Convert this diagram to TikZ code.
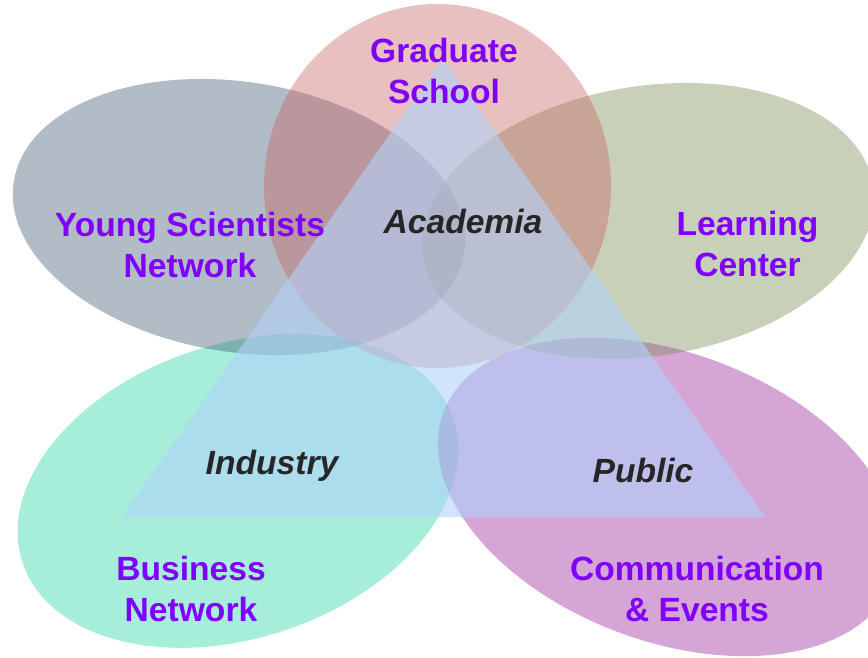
\documentclass[tikz,border=0pt]{standalone}
\usepackage{fontspec}
\setmainfont{Liberation Sans}
\usetikzlibrary{calc}

\definecolor{gsred}{RGB}{198,97,97}
\definecolor{ysgray}{RGB}{62,88,112}
\definecolor{lcolive}{RGB}{118,138,82}
\definecolor{bnteal}{RGB}{32,210,163}
\definecolor{cepurple}{RGB}{150,30,151}
\definecolor{triblue}{RGB}{177,210,250}
\definecolor{labelviolet}{RGB}{128,0,255}
\definecolor{innergray}{RGB}{38,38,38}

\tikzset{
    outer/.style={labelviolet, font=\fontsize{33.6}{41}\selectfont\bfseries, align=center},
    inner/.style={innergray, font=\fontsize{33.6}{41}\selectfont\bfseries\itshape, anchor=base}
}

\begin{document}
\begin{tikzpicture}[x=1pt, y=-1pt]
            \useasboundingbox (0,0) rectangle (868,657);
            \clip (0,0) rectangle (868,657);

            \coordinate (gs) at (437.5,186);
            \coordinate (ys) at (239,217);
            \coordinate (lc) at (648,221);
            \coordinate (bn) at (238,491);
            \coordinate (ce) at (668,497);

            \foreach \c/\col/\rx/\ry/\ang in {bn/bnteal/227/147/18.4, ce/cepurple/240/144/-20.7, ys/ysgray/228/135/-9, lc/lcolive/228/135/9, gs/gsred/173.5/182/0}
                {
                    \fill [\col, fill opacity=.4, rotate around={\ang:(\c)}] (\c) ellipse (\rx pt and \ry pt);
                }

            \coordinate (apex) at (443,58);
            \coordinate (bl) at (122,517);
            \coordinate (br) at (765,517);
            \fill [triblue, fill opacity=.6] (apex) -- (bl) -- (br) -- cycle;

                \node (gslabel) at ($(gs) + (6.5,-115.5)$) [outer] {Graduate\\School};
                \node (yslabel) at ($(ys) + (-49,28)$) [outer] {Young Scientists\\Network};
                \node (lclabel) at ($(lc) + (99.5,23)$) [outer] {Learning\\Center};
                \node (bnlabel) at ($(bn) + (-47,98)$) [outer] {Business\\Network};
                \node (celabel) at ($(ce) + (29,92)$) [outer] {Communication\\\& Events};

                \node (academia) at (463,233) [inner] {Academia};
                \node (industry) at (272,474) [inner] {Industry};
                \node (public) at (643,482) [inner] {Public};

        \end{tikzpicture}
\end{document}
